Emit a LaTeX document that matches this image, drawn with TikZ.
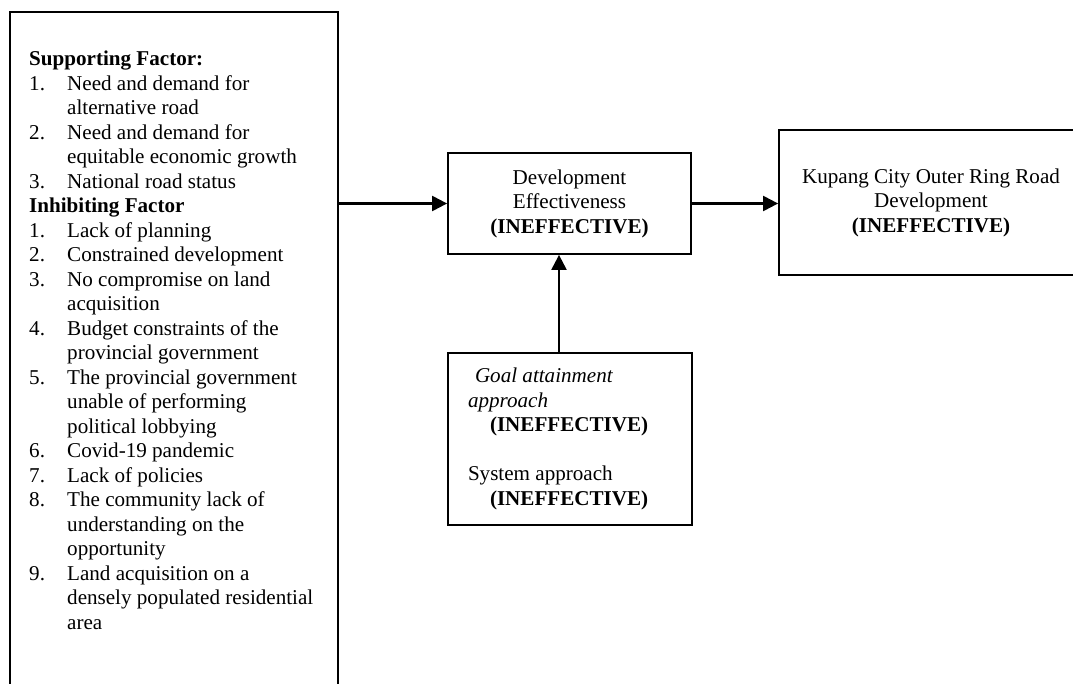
\documentclass[tikz,border=0pt]{standalone}
\usepackage{fontspec}
\setmainfont{Liberation Serif}
\usetikzlibrary{arrows.meta}
\tikzset{
  boxline/.style={draw=black, line width=1.8pt, rectangle, inner ysep=0pt},
  arr/.style={line width=2.2pt, -{Triangle[length=15pt,width=15pt]}},
  txt/.style={font=\fontsize{21.1}{24.5}\selectfont}
}
\newcommand{\itemno}[1]{\makebox[38pt][l]{#1}}
\newcommand{\itemcont}{\hspace*{38pt}}
\begin{document}
\begin{tikzpicture}[x=1pt,y=-1pt,txt]
\useasboundingbox (0,0) rectangle (1073,684);
\clip (0,0) rectangle (1073,684);
% left box
\node[boxline, anchor=north west, minimum width=328pt, minimum height=720pt] (factors) at (9,11) {};
\node[anchor=base west, inner sep=0pt] (factorlist) at (29,66) {\parbox[t]{305pt}{\fontsize{21.1}{24.5}\selectfont
\textbf{Supporting Factor:}\\
\itemno{1.}Need and demand for\\
\itemcont alternative road\\
\itemno{2.}Need and demand for\\
\itemcont equitable economic growth\\
\itemno{3.}National road status\\
\textbf{Inhibiting Factor}\\
\itemno{1.}Lack of planning\\
\itemno{2.}Constrained development\\
\itemno{3.}No compromise on land\\
\itemcont acquisition\\
\itemno{4.}Budget constraints of the\\
\itemcont provincial government\\
\itemno{5.}The provincial government\\
\itemcont unable of performing\\
\itemcont political lobbying\\
\itemno{6.}Covid-19 pandemic\\
\itemno{7.}Lack of policies\\
\itemno{8.}The community lack of\\
\itemcont understanding on the\\
\itemcont opportunity\\
\itemno{9.}Land acquisition on a\\
\itemcont densely populated residential\\
\itemcont area}};
% development effectiveness box
\node[boxline, minimum width=243pt, minimum height=101pt, text width=223pt, inner xsep=10pt, align=flush center] (dev) at (569.5,203.5)
  {Development\\Effectiveness\\\textbf{(INEFFECTIVE)}};
% kupang box
\node[boxline, minimum width=304pt, minimum height=145pt, text width=284pt, inner xsep=10pt, align=flush center] (kupang) at (931,202.5)
  {Kupang City Outer Ring Road\\Development\\\textbf{(INEFFECTIVE)}};
% goal box
\node[boxline, minimum width=244pt, minimum height=172pt, text width=204pt, inner xsep=20pt, align=flush left] (goal) at (570,439)
  {\hspace*{7pt}\textit{Goal attainment}\\\textit{approach}\\\hspace*{22pt}\textbf{(INEFFECTIVE)}\\[24.5pt]System approach\\\hspace*{22pt}\textbf{(INEFFECTIVE)}};
% connectors
\coordinate (vx) at (559,0);
\draw[arr] (factors.east |- dev.west) -- (dev.west);
\draw[arr] (dev.east) -- (kupang.west |- dev.east);
\draw[arr] (goal.north -| vx) -- (dev.south -| vx);
\end{tikzpicture}
\end{document}
